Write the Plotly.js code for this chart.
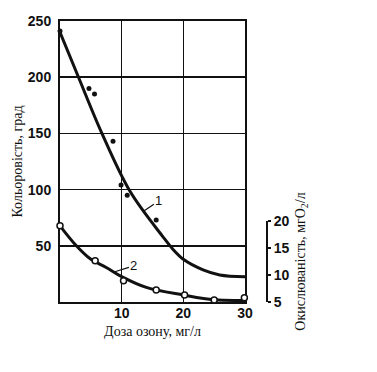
<!DOCTYPE html>
<html><head><meta charset="utf-8">
<script src="https://cdn.plot.ly/plotly-3.0.1.min.js"></script>
<style>html,body{margin:0;padding:0;background:#fff}</style>
</head><body><div id="chart" style="width:377px;height:372px"></div>
<script>
// Curve 1: colour (degrees) vs ozone dose (mg/l)
const doseCurve1 = [0, 3, 6.8, 11.4, 16.7, 18.3, 20, 23.2, 25.9, 30];
const colourCurve1 = [240, 200, 150, 98, 58, 47, 38, 28.6, 24.1, 22.5];
const dosePts1 = [0, 4.7, 5.6, 8.6, 9.9, 10.9, 15.6];
const colourPts1 = [241, 190, 185, 143, 104, 95, 73];
// Curve 2: oxidizability (mg O2/l) vs ozone dose
const doseCurve2 = [0, 2.5, 4.9, 7.5, 10, 14, 20, 25, 30];
const oxCurve2 = [19.1, 15.6, 13.0, 11.4, 9.7, 7.7, 6.3, 5.4, 5.3];
const dosePts2 = [0, 5.7, 10.3, 15.6, 20.2, 25.0, 29.9];
const oxPts2 = [19.1, 12.65, 8.95, 7.2, 6.3, 5.35, 5.8];
// tick labels
const xTicks = [10, 20, 30];
const yTicks = [50, 100, 150, 200, 250];
const y2Ticks = [5, 10, 15, 20];
const curveLabels = ['1', '2'];

const ink = '#111';
const tickFont = {family: 'Liberation Sans, Arial, sans-serif', size: 14, color: ink, weight: 'bold'};
const serif = {family: 'Liberation Serif, Times New Roman, serif', size: 14, color: ink};
const labelFont = {family: 'Liberation Sans, Arial, sans-serif', size: 13, color: ink};

const traces = [
  {x: doseCurve1, y: colourCurve1, mode: 'lines', line: {color: ink, width: 3, shape: 'spline', smoothing: 1}, cliponaxis: false, hoverinfo: 'skip'},
  {x: dosePts1, y: colourPts1, mode: 'markers', marker: {color: ink, size: 5}, cliponaxis: false},
  {x: doseCurve2, y: oxCurve2, yaxis: 'y3', mode: 'lines', line: {color: ink, width: 3, shape: 'spline', smoothing: 1}, cliponaxis: false, hoverinfo: 'skip'},
  {x: dosePts2, y: oxPts2, yaxis: 'y3', mode: 'markers', marker: {color: '#fff', size: 6, line: {color: ink, width: 1.5}}, cliponaxis: false}
];

const layout = {
  width: 377, height: 372,
  margin: {l: 60, r: 20, t: 21, b: 70},
  paper_bgcolor: '#fff', plot_bgcolor: 'rgba(0,0,0,0)',
  showlegend: false,
  xaxis: {
    domain: [0, 0.6229], range: [0, 30], tickvals: xTicks, ticktext: xTicks.map(String),
    showgrid: true, gridcolor: ink, gridwidth: 1.5, zeroline: false,
    showline: true, linecolor: ink, linewidth: 2, mirror: true, ticks: '',
    tickfont: tickFont, ticklabelstandoff: -3,
    title: {text: 'Доза озону, мг/л', font: serif, standoff: 6}
  },
  yaxis: {
    range: [0, 250], tickvals: yTicks, ticktext: yTicks.map(String),
    showgrid: true, gridcolor: ink, gridwidth: 1.5, zeroline: false,
    showline: true, linecolor: ink, linewidth: 2, mirror: true, ticks: '',
    tickfont: tickFont, ticklabelstandoff: 4,
    title: {text: 'Кольоровість, град', font: serif, standoff: 2}
  },
  yaxis3: {
    domain: [0, 0.2883], range: [5, 20], anchor: 'free', position: 0.697, side: 'right',
    tickvals: y2Ticks, ticktext: y2Ticks.map(String), showgrid: false, zeroline: false,
    showline: true, linecolor: ink, linewidth: 2, ticks: 'outside', ticklen: 3, tickwidth: 1.5, tickcolor: ink,
    tickfont: tickFont, ticklabelstandoff: 0,
    title: {text: 'Окислюваність, мгO<sub>2</sub>/л', font: serif, standoff: 6}
  },
  annotations: [
    {x: 13.6, y: 81, xref: 'x', yref: 'y', text: curveLabels[0], showarrow: true, arrowhead: 0, arrowwidth: 1.2, arrowcolor: ink, ax: 15, ay: -10, font: labelFont},
    {x: 8.9, y: 10.6, xref: 'x', yref: 'y3', text: curveLabels[1], showarrow: true, arrowhead: 0, arrowwidth: 1.2, arrowcolor: ink, ax: 19, ay: -6, font: labelFont}
  ]
};

Plotly.newPlot('chart', traces, layout, {staticPlot: true, displayModeBar: false});
</script></body></html>
